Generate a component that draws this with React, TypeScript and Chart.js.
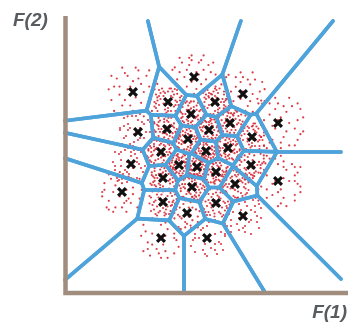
import React, { useEffect, useRef } from 'react';
import { Chart, registerables } from 'chart.js';

Chart.register(...registerables);

// Cluster centres (F(1), F(2))
const siteF1 = [68, 129, 178, 103, 150, 126, 73, 102, 144, 165, 213, 187, 123, 163, 96, 141, 66, 114, 132, 151, 186, 98, 213, 170, 127, 57, 98, 151, 122, 178, 96, 142];
const siteF2 = [200, 215, 198, 190, 190, 178, 160, 163, 162, 169, 169, 155, 153, 144, 140, 141, 128, 127, 125, 120, 127, 114, 111, 108, 105, 100, 90, 89, 79, 76, 54, 54];

// Sample cloud around each centre: spread radius and number of samples
const sampleSpread = [27, 24, 24, 15, 15, 14, 20, 14, 13, 14, 28, 15, 13, 13, 14, 12, 20, 12, 12, 13, 16, 14, 28, 15, 14, 22, 15, 15, 18, 20, 22, 20];
const sampleCount = [40, 38, 38, 48, 48, 52, 40, 52, 56, 52, 42, 50, 56, 56, 52, 56, 40, 56, 56, 56, 48, 52, 42, 50, 52, 35, 48, 48, 42, 36, 30, 30];

// Sample offsets inside a disc of radius 10
const sampleOffsets = [
  [3, -7], [-5, 2], [8, 1], [-2, -9], [0, 4], [6, -4], [-8, -3], [2, 8], [-4, -5], [5, 6],
  [-9, 1], [1, -2], [7, -7], [-3, 7], [4, 0], [-6, 5], [9, -2], [-1, -5], [3, 3], [-7, -7],
  [6, 8], [-2, 1], [1, 9], [-5, -1], [8, 4], [-3, -3], [4, -9], [-8, 6], [0, -7], [2, 5],
  [-6, -8], [7, -1], [-4, 9], [5, -6], [-1, 2], [9, 3], [-7, 2], [3, -4], [-2, 6], [6, 2],
  [-9, -4], [1, 7], [-4, 3], [8, -5], [0, -1], [-5, 8], [4, 8], [-3, -7], [7, 6], [-6, 0],
  [2, -6], [-1, -9], [5, -2], [-8, -1], [3, 1], [-2, -4], [6, -8], [-5, 6], [9, 0], [0, 6],
];

// Extent of the partition lines
const boxF1 = [0, 276];
const boxF2 = [0, 271];

const axisLabelX = 'F(1)';
const axisLabelY = 'F(2)';

function orient(dx: number, dy: number, v: number): [number, number] {
  let a = dx;
  let b = dy;
  if (v & 4) {
    const t = a;
    a = b;
    b = t;
  }
  if (v & 1) a = -a;
  if (v & 2) b = -b;
  return [a, b];
}

function buildSamples() {
  const pts: { x: number; y: number }[] = [];
  for (let i = 0; i < siteF1.length; i++) {
    const start = (i * 7) % sampleOffsets.length;
    for (let k = 0; k < sampleCount[i]; k++) {
      const o = sampleOffsets[(start + k) % sampleOffsets.length];
      const [dx, dy] = orient(o[0], o[1], i % 8);
      pts.push({ x: siteF1[i] + (dx * sampleSpread[i]) / 10, y: siteF2[i] + (dy * sampleSpread[i]) / 10 });
    }
  }
  return pts;
}

type P = [number, number];

function clipHalf(poly: P[], nx: number, ny: number, c: number): P[] {
  const out: P[] = [];
  for (let k = 0; k < poly.length; k++) {
    const p = poly[k];
    const q = poly[(k + 1) % poly.length];
    const fp = nx * p[0] + ny * p[1] - c;
    const fq = nx * q[0] + ny * q[1] - c;
    if (fp <= 0) out.push(p);
    if ((fp < 0 && fq > 0) || (fp > 0 && fq < 0)) {
      const t = fp / (fp - fq);
      out.push([p[0] + t * (q[0] - p[0]), p[1] + t * (q[1] - p[1])]);
    }
  }
  return out;
}

function voronoiEdges(): [P, P][] {
  const edges: [P, P][] = [];
  const eps = 1e-6;
  const onBox = (a: P, b: P) =>
    (Math.abs(a[0] - boxF1[0]) < eps && Math.abs(b[0] - boxF1[0]) < eps) ||
    (Math.abs(a[0] - boxF1[1]) < eps && Math.abs(b[0] - boxF1[1]) < eps) ||
    (Math.abs(a[1] - boxF2[0]) < eps && Math.abs(b[1] - boxF2[0]) < eps) ||
    (Math.abs(a[1] - boxF2[1]) < eps && Math.abs(b[1] - boxF2[1]) < eps);
  for (let i = 0; i < siteF1.length; i++) {
    let poly: P[] = [
      [boxF1[0], boxF2[0]],
      [boxF1[1], boxF2[0]],
      [boxF1[1], boxF2[1]],
      [boxF1[0], boxF2[1]],
    ];
    const sx = siteF1[i];
    const sy = siteF2[i];
    for (let j = 0; j < siteF1.length; j++) {
      if (j === i) continue;
      const tx = siteF1[j];
      const ty = siteF2[j];
      const nx = tx - sx;
      const ny = ty - sy;
      const c = (tx * tx + ty * ty - sx * sx - sy * sy) / 2;
      poly = clipHalf(poly, nx, ny, c);
      if (poly.length === 0) break;
    }
    for (let k = 0; k < poly.length; k++) {
      const a = poly[k];
      const b = poly[(k + 1) % poly.length];
      if (!onBox(a, b)) edges.push([a, b]);
    }
  }
  return edges;
}

const partitionPlugin = {
  id: 'partition',
  afterDatasetDraw(chart: any, args: any) {
    if (args.index !== 1) return;
    const { ctx, scales } = chart;
    const xs = scales.x;
    const ys = scales.y;
    ctx.save();
    ctx.strokeStyle = '#4ea3da';
    ctx.lineWidth = 3.6;
    ctx.lineCap = 'round';
    ctx.lineJoin = 'round';
    for (const [a, b] of voronoiEdges()) {
      ctx.beginPath();
      ctx.moveTo(xs.getPixelForValue(a[0]), ys.getPixelForValue(a[1]));
      ctx.lineTo(xs.getPixelForValue(b[0]), ys.getPixelForValue(b[1]));
      ctx.stroke();
    }
    ctx.restore();
  },
  afterDatasetsDraw(chart: any) {
    const { ctx, chartArea } = chart;
    const { left, top, right, bottom } = chartArea;
    ctx.save();
    ctx.strokeStyle = '#a08d7e';
    ctx.lineWidth = 4.5;
    ctx.lineJoin = 'miter';
    ctx.lineCap = 'butt';
    ctx.beginPath();
    ctx.moveTo(left + 0.5, top);
    ctx.lineTo(left + 0.5, bottom + 1);
    ctx.lineTo(right, bottom + 1);
    ctx.stroke();

    ctx.fillStyle = '#575c61';
    ctx.font = 'italic bold 19px "Liberation Sans", Arial, sans-serif';
    ctx.textBaseline = 'alphabetic';
    ctx.textAlign = 'left';
    ctx.fillText(axisLabelY, 13, 26);
    ctx.textAlign = 'right';
    ctx.fillText(axisLabelX, 347, 318);
    ctx.restore();
  },
};

export default function App() {
  const canvasRef = useRef<HTMLCanvasElement | null>(null);

  useEffect(() => {
    const canvas = canvasRef.current;
    if (!canvas) return;
    const centres = siteF1.map((x, i) => ({ x, y: siteF2[i] }));
    const chart = new Chart(canvas, {
      type: 'scatter',
      data: {
        datasets: [
          {
            label: 'centres',
            data: centres,
            pointStyle: 'crossRot',
            pointRadius: 5.5,
            pointBorderWidth: 3.2,
            pointBorderColor: '#111111',
            pointBackgroundColor: '#111111',
          },
          {
            label: 'samples',
            data: buildSamples(),
            pointRadius: 1.1,
            pointBorderWidth: 0,
            pointBackgroundColor: 'rgba(214, 40, 52, 0.9)',
          },
        ],
      },
      options: {
        responsive: false,
        animation: false,
        events: [],
        layout: { autoPadding: false, padding: { left: 65, top: 16, right: 0, bottom: 33 } },
        scales: {
          x: { type: 'linear', min: 0, max: 283, display: false },
          y: { type: 'linear', min: 0, max: 276, display: false },
        },
        plugins: { legend: { display: false }, tooltip: { enabled: false } },
      },
      plugins: [partitionPlugin],
    });
    return () => chart.destroy();
  }, []);

  return (
    <div style={{ position: 'fixed', left: 0, top: 0, width: 348, height: 325, background: '#ffffff' }}>
      <canvas ref={canvasRef} width={348} height={325} />
    </div>
  );
}
